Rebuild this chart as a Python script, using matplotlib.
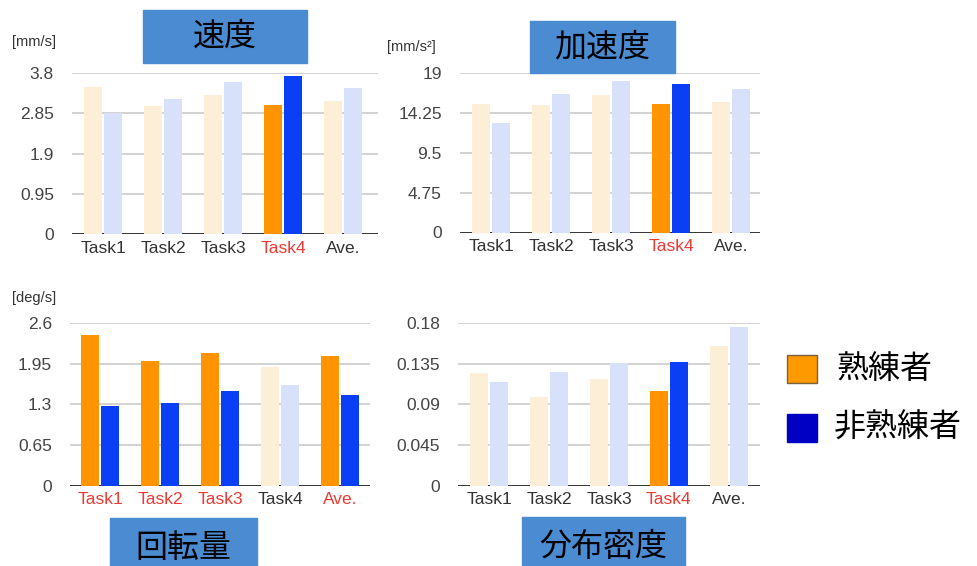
import matplotlib
matplotlib.use("Agg")
import matplotlib.pyplot as plt
from matplotlib.patches import Rectangle

plt.rcParams['font.family'] = ['Liberation Sans', 'Noto Sans CJK JP', 'DejaVu Sans']

W, H = 977, 566

categories = ['Task1', 'Task2', 'Task3', 'Task4', 'Ave.']

# 速度 [mm/s]
speed_expert = [3.47, 3.03, 3.29, 3.04, 3.14]
speed_novice = [2.85, 3.19, 3.58, 3.73, 3.45]
speed_ticks = [0, 0.95, 1.9, 2.85, 3.8]
speed_ticklabels = ['0', '0.95', '1.9', '2.85', '3.8']
speed_highlight = [False, False, False, True, False]

# 加速度 [mm/s2]
accel_expert = [15.34, 15.18, 16.37, 15.26, 15.58]
accel_novice = [13.1, 16.49, 18.09, 17.69, 17.05]
accel_ticks = [0, 4.75, 9.5, 14.25, 19]
accel_ticklabels = ['0', '4.75', '9.5', '14.25', '19']
accel_highlight = [False, False, False, True, False]

# 回転量 [deg/s]
rot_expert = [2.41, 2.0, 2.12, 1.89, 2.065]
rot_novice = [1.28, 1.32, 1.51, 1.605, 1.45]
rot_ticks = [0, 0.65, 1.3, 1.95, 2.6]
rot_ticklabels = ['0', '0.65', '1.3', '1.95', '2.6']
rot_highlight = [True, True, True, False, True]

# 分布密度
dens_expert = [0.125, 0.0985, 0.118, 0.105, 0.154]
dens_novice = [0.115, 0.126, 0.136, 0.137, 0.1755]
dens_ticks = [0, 0.045, 0.09, 0.135, 0.18]
dens_ticklabels = ['0', '0.045', '0.09', '0.135', '0.18']
dens_highlight = [False, False, False, True, False]

ORANGE = '#ff9400'
BLUE = '#0a3ff5'
ORANGE_FADE = '#fdeed8'
BLUE_FADE = '#d7e1fa'
BOX = '#4a8bd2'
RED = '#ec3b35'


def px_axes(x0, y0, x1, y1):
    return [x0 / W, 1 - y1 / H, (x1 - x0) / W, (y1 - y0) / H]


def draw_panel(fig, rect, expert, novice, ticks, ticklabels, highlight, xlim):
    ax = fig.add_axes(rect)
    xs = list(range(len(categories)))
    bw = 0.3
    for i in xs:
        c1 = ORANGE if highlight[i] else ORANGE_FADE
        c2 = BLUE if highlight[i] else BLUE_FADE
        ax.bar(i - bw / 2 - 0.015, expert[i], width=bw, color=c1, zorder=3)
        ax.bar(i + bw / 2 + 0.015, novice[i], width=bw, color=c2, zorder=3)
    for t in ticks[1:]:
        ax.axhline(t, color='#cfcfcf', lw=1.3, zorder=1)
    ax.axhline(0, color='#333333', lw=1.4, zorder=2)
    ax.set_ylim(0, ticks[-1])
    ax.set_xlim(*xlim)
    ax.set_yticks(ticks)
    ax.set_yticklabels(ticklabels)
    ax.set_xticks(xs)
    ax.set_xticklabels(categories)
    for lbl, hl in zip(ax.get_xticklabels(), highlight):
        lbl.set_color(RED if hl else '#333333')
    ax.tick_params(axis='y', length=0, pad=13, labelsize=12.5, labelcolor='#444444')
    ax.tick_params(axis='x', length=0, pad=5, labelsize=12.5)
    for s in ax.spines.values():
        s.set_visible(False)
    ax.set_facecolor('none')
    return ax


def title_box(fig, x0, y0, x1, y1, text, ty=None):
    fig.patches.append(Rectangle((x0 / W, 1 - y1 / H), (x1 - x0) / W, (y1 - y0) / H,
                                 transform=fig.transFigure, color=BOX, zorder=0))
    if ty is None:
        ty = (y0 + y1) / 2
    fig.text((x0 + x1) / 2 / W, 1 - ty / H, text, ha='center', va='center',
             fontsize=23, family=['Noto Sans CJK JP'], color='black')


fig = plt.figure(figsize=(W / 100, H / 100), dpi=100)

draw_panel(fig, px_axes(72, 73, 378, 234), speed_expert, speed_novice,
           speed_ticks, speed_ticklabels, speed_highlight, (-0.52, 4.58))
draw_panel(fig, px_axes(460, 73, 760, 232.5), accel_expert, accel_novice,
           accel_ticks, accel_ticklabels, accel_highlight, (-0.52, 4.48))
draw_panel(fig, px_axes(70, 323, 370, 485.5), rot_expert, rot_novice,
           rot_ticks, rot_ticklabels, rot_highlight, (-0.5, 4.5))
draw_panel(fig, px_axes(458, 323, 760, 485.5), dens_expert, dens_novice,
           dens_ticks, dens_ticklabels, dens_highlight, (-0.52, 4.52))

title_box(fig, 143, 10, 307, 63, '速度')
title_box(fig, 530, 21, 675, 73, '加速度')
title_box(fig, 110, 518, 257, 572, '回転量', ty=548)
title_box(fig, 522, 517, 685, 572, '分布密度', ty=547)

fig.text(12 / W, 1 - 42 / H, '[mm/s]', fontsize=10.5, color='#333333', va='center')
fig.text(387 / W, 1 - 47 / H, '[mm/s²]', fontsize=10.5, color='#333333', va='center')
fig.text(12 / W, 1 - 298 / H, '[deg/s]', fontsize=10.5, color='#333333', va='center')

# legend
fig.patches.append(Rectangle((787 / W, 1 - 383 / H), 30 / W, 28 / H, transform=fig.transFigure,
                             facecolor='#ff9900', edgecolor='#7a6040', lw=1))
fig.patches.append(Rectangle((787 / W, 1 - 442 / H), 30 / W, 28 / H, transform=fig.transFigure,
                             facecolor='#0000c4', edgecolor='#0000c4', lw=1))
fig.text(836 / W, 1 - 369 / H, '熟練者', fontsize=23, family=['Noto Sans CJK JP'],
         va='center', ha='left')
fig.text(834 / W, 1 - 428 / H, '非熟練者', fontsize=23, family=['Noto Sans CJK JP'],
         va='center', ha='left')

fig.savefig('out.png', dpi=100)
